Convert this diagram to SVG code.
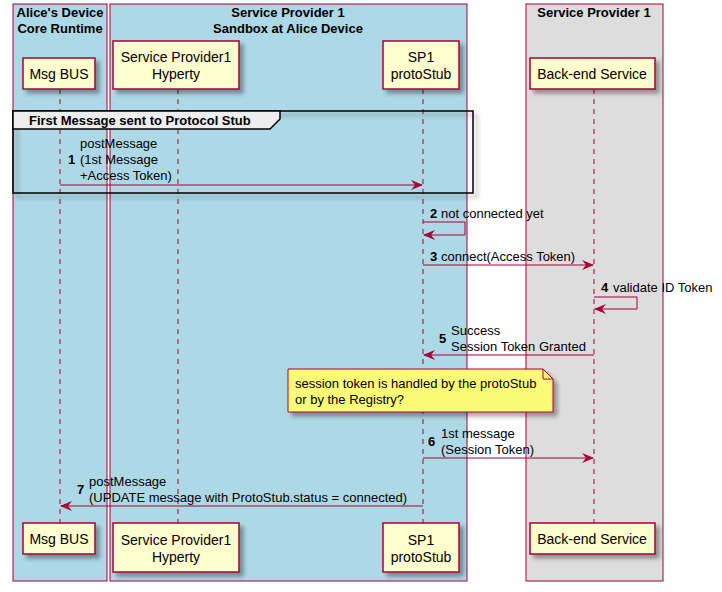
<svg xmlns="http://www.w3.org/2000/svg" width="722" height="592" viewBox="0 0 722 592">
<defs>
<filter id="sh" x="-20%" y="-20%" width="150%" height="160%">
<feGaussianBlur in="SourceAlpha" stdDeviation="2"/>
<feOffset dx="4" dy="4" result="b"/>
<feComponentTransfer><feFuncA type="linear" slope="0.35"/></feComponentTransfer>
<feMerge><feMergeNode/><feMergeNode in="SourceGraphic"/></feMerge>
</filter>
<marker id="ah" viewBox="0 0 12 10" refX="11" refY="5" markerWidth="12" markerHeight="10" markerUnits="userSpaceOnUse" orient="auto">
<path d="M0,0 L12,5 L0,10 L4,5 Z" fill="#A80036"/>
</marker>
</defs>
<style>
.box{stroke:#A80036;stroke-width:1}
.title{font-family:"Liberation Sans",Arial,sans-serif;font-size:13px;font-weight:bold;fill:#000;text-anchor:middle}
.part rect{fill:#FEFECE;stroke:#A80036;stroke-width:1.5}
.part text{font-family:"Liberation Sans",Arial,sans-serif;font-size:14px;fill:#000;text-anchor:middle}
.life{stroke:#A80036;stroke-width:1;stroke-dasharray:5,5;fill:none}
.msg{stroke:#A80036;stroke-width:1;fill:none}
.lbl{font-family:"Liberation Sans",Arial,sans-serif;font-size:13px;fill:#000}
.num{font-family:"Liberation Sans",Arial,sans-serif;font-size:13px;font-weight:bold;fill:#000}
</style>
<rect width="722" height="592" fill="#FFFFFF"/>
<g id="box-alice">
<rect class="box" x="13" y="4" width="94" height="577" fill="#ADD8E6"/>
<text class="title" x="60" y="17">Alice's Device</text>
<text class="title" x="60" y="33">Core Runtime</text>
</g>
<g id="box-sandbox">
<rect class="box" x="110" y="4" width="357" height="577" fill="#ADD8E6"/>
<text class="title" x="288" y="17">Service Provider 1</text>
<text class="title" x="288" y="33">Sandbox at Alice Device</text>
</g>
<g id="box-sp1">
<rect class="box" x="526" y="4" width="137" height="577" fill="#DDDDDD"/>
<text class="title" x="594" y="17">Service Provider 1</text>
</g>
<g id="lifelines">
<line class="life" x1="60" y1="89" x2="60" y2="523"/>
<line class="life" x1="178" y1="89" x2="178" y2="523"/>
<line class="life" x1="423" y1="89" x2="423" y2="523"/>
<line class="life" x1="594" y1="89" x2="594" y2="523"/>
</g>
<g id="group-first-message">
<rect x="13" y="111" width="460" height="82" fill="none" stroke="#000" stroke-width="1.5" filter="url(#sh)"/>
<polygon points="13,111 280,111 280,119 270,129 13,129" fill="#EEEEEE" stroke="#000" stroke-width="1.5"/>
<text class="num" x="29" y="125">First Message sent to Protocol Stub</text>
</g>
<g id="connectors">
<line class="msg" x1="60" y1="185" x2="422" y2="185" marker-end="url(#ah)"/>
<text class="num" x="68" y="164">1</text>
<text class="lbl" x="80" y="148">postMessage</text>
<text class="lbl" x="80" y="164">(1st Message</text>
<text class="lbl" x="80" y="180">+Access Token)</text>

<polyline class="msg" points="423,222 465,222 465,235 424,235" marker-end="url(#ah)"/>
<text class="num" x="430" y="218">2</text>
<text class="lbl" x="441" y="218">not connected yet</text>

<line class="msg" x1="423" y1="265" x2="593" y2="265" marker-end="url(#ah)"/>
<text class="num" x="430" y="261">3</text>
<text class="lbl" x="441" y="261">connect(Access Token)</text>

<polyline class="msg" points="594,297 637,297 637,309 595,309" marker-end="url(#ah)"/>
<text class="num" x="601" y="292">4</text>
<text class="lbl" x="613" y="292">validate ID Token</text>

<line class="msg" x1="594" y1="355" x2="424" y2="355" marker-end="url(#ah)"/>
<text class="num" x="439" y="343">5</text>
<text class="lbl" x="451" y="335">Success</text>
<text class="lbl" x="451" y="351">Session Token Granted</text>

<line class="msg" x1="423" y1="458" x2="593" y2="458" marker-end="url(#ah)"/>
<text class="num" x="428" y="446">6</text>
<text class="lbl" x="441" y="438">1st message</text>
<text class="lbl" x="441" y="454">(Session Token)</text>

<line class="msg" x1="423" y1="506" x2="61" y2="506" marker-end="url(#ah)"/>
<text class="num" x="77" y="494">7</text>
<text class="lbl" x="89" y="486">postMessage</text>
<text class="lbl" x="89" y="502">(UPDATE message with ProtoStub.status = connected)</text>
</g>
<g id="note">
<path d="M288,369 L543,369 L553,379 L553,412 L288,412 Z" fill="#FBFB77" stroke="#A80036" stroke-width="1" filter="url(#sh)"/>
<path d="M543,369 L543,379 L553,379" fill="none" stroke="#A80036" stroke-width="1"/>
<text class="lbl" x="295" y="388">session token is handled by the protoStub</text>
<text class="lbl" x="295" y="404">or by the Registry?</text>
</g>
<g id="msgbus-top" class="part"><rect x="23" y="58" width="72" height="31" filter="url(#sh)"/><text x="59" y="79">Msg BUS</text></g>
<g id="hyperty-top" class="part"><rect x="113" y="41" width="126" height="48" filter="url(#sh)"/><text x="176" y="62">Service Provider1</text><text x="176" y="79">Hyperty</text></g>
<g id="protostub-top" class="part"><rect x="383" y="41" width="76" height="48" filter="url(#sh)"/><text x="421" y="62">SP1</text><text x="421" y="79">protoStub</text></g>
<g id="backend-top" class="part"><rect x="530" y="58" width="125" height="31" filter="url(#sh)"/><text x="592" y="79">Back-end Service</text></g>
<g id="msgbus-bottom" class="part"><rect x="23" y="523" width="72" height="31" filter="url(#sh)"/><text x="59" y="544">Msg BUS</text></g>
<g id="hyperty-bottom" class="part"><rect x="113" y="523" width="126" height="49" filter="url(#sh)"/><text x="176" y="545">Service Provider1</text><text x="176" y="562">Hyperty</text></g>
<g id="protostub-bottom" class="part"><rect x="383" y="523" width="76" height="49" filter="url(#sh)"/><text x="421" y="545">SP1</text><text x="421" y="562">protoStub</text></g>
<g id="backend-bottom" class="part"><rect x="530" y="523" width="125" height="31" filter="url(#sh)"/><text x="592" y="544">Back-end Service</text></g>
</svg>
